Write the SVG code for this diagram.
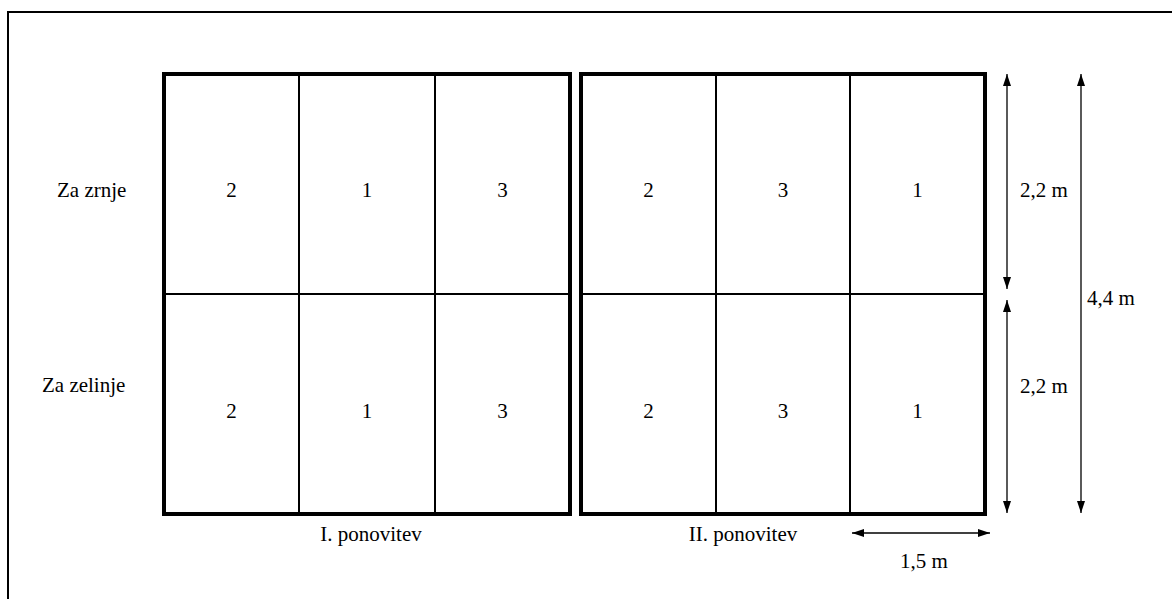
<svg xmlns="http://www.w3.org/2000/svg" width="1172" height="599" viewBox="0 0 1172 599">
  <style>
    .thick { stroke: #000; stroke-width: 4; fill: none; }
    .thin { stroke: #000; stroke-width: 2; fill: none; }
    .dim { stroke: #000; stroke-width: 1.3; fill: none; }
  </style>
  <defs>
    <marker id="ah" viewBox="0 0 12 8" refX="12" refY="4" markerWidth="12" markerHeight="8" markerUnits="userSpaceOnUse" orient="auto-start-reverse">
      <path d="M0,0 L12,4 L0,8 Z" fill="#000"/>
    </marker>
  </defs>

  <rect width="1172" height="599" fill="#fff"/>

  <!-- outer frame -->
  <path class="thin" d="M8,605 L8,12 L1180,12"/>

  <!-- replicate I -->
  <g id="rep1">
    <rect class="thick" x="164" y="74" width="406" height="440"/>
    <line class="thin" x1="164" y1="294" x2="570" y2="294"/>
    <line class="thin" x1="299" y1="74" x2="299" y2="514"/>
    <line class="thin" x1="435" y1="74" x2="435" y2="514"/>
    <text style="font-family:'Liberation Serif',serif;font-size:21px;text-anchor:middle" x="231.5" y="197">2</text>
    <text style="font-family:'Liberation Serif',serif;font-size:21px;text-anchor:middle" x="367" y="197">1</text>
    <text style="font-family:'Liberation Serif',serif;font-size:21px;text-anchor:middle" x="502.5" y="197">3</text>
    <text style="font-family:'Liberation Serif',serif;font-size:21px;text-anchor:middle" x="231.5" y="418">2</text>
    <text style="font-family:'Liberation Serif',serif;font-size:21px;text-anchor:middle" x="367" y="418">1</text>
    <text style="font-family:'Liberation Serif',serif;font-size:21px;text-anchor:middle" x="502.5" y="418">3</text>
    <text style="font-family:'Liberation Serif',serif;font-size:21px;text-anchor:middle" x="371" y="541">I. ponovitev</text>
  </g>

  <!-- replicate II -->
  <g id="rep2">
    <rect class="thick" x="581" y="74" width="404" height="440"/>
    <line class="thin" x1="581" y1="294" x2="985" y2="294"/>
    <line class="thin" x1="716" y1="74" x2="716" y2="514"/>
    <line class="thin" x1="850" y1="74" x2="850" y2="514"/>
    <text style="font-family:'Liberation Serif',serif;font-size:21px;text-anchor:middle" x="648.5" y="197">2</text>
    <text style="font-family:'Liberation Serif',serif;font-size:21px;text-anchor:middle" x="783" y="197">3</text>
    <text style="font-family:'Liberation Serif',serif;font-size:21px;text-anchor:middle" x="917.5" y="197">1</text>
    <text style="font-family:'Liberation Serif',serif;font-size:21px;text-anchor:middle" x="648.5" y="418">2</text>
    <text style="font-family:'Liberation Serif',serif;font-size:21px;text-anchor:middle" x="783" y="418">3</text>
    <text style="font-family:'Liberation Serif',serif;font-size:21px;text-anchor:middle" x="917.5" y="418">1</text>
    <text style="font-family:'Liberation Serif',serif;font-size:21px;text-anchor:middle" x="743" y="541">II. ponovitev</text>
  </g>

  <!-- row labels -->
  <g id="labels">
    <text style="font-family:'Liberation Serif',serif;font-size:21px" x="57" y="197">Za zrnje</text>
    <text style="font-family:'Liberation Serif',serif;font-size:21px" x="42" y="392">Za zelinje</text>
  </g>

  <!-- dimension arrows -->
  <g id="dimensions">
    <line class="dim" x1="1007" y1="74" x2="1007" y2="289" marker-start="url(#ah)" marker-end="url(#ah)"/>
    <line class="dim" x1="1007" y1="300" x2="1007" y2="513" marker-start="url(#ah)" marker-end="url(#ah)"/>
    <line class="dim" x1="1081" y1="74" x2="1081" y2="513" marker-start="url(#ah)" marker-end="url(#ah)"/>
    <line class="dim" x1="852" y1="533" x2="990" y2="533" marker-start="url(#ah)" marker-end="url(#ah)"/>
    <text style="font-family:'Liberation Serif',serif;font-size:21px" x="1020" y="197">2,2 m</text>
    <text style="font-family:'Liberation Serif',serif;font-size:21px" x="1020" y="393">2,2 m</text>
    <text style="font-family:'Liberation Serif',serif;font-size:21px" x="1087" y="305">4,4 m</text>
    <text style="font-family:'Liberation Serif',serif;font-size:21px" x="900" y="568">1,5 m</text>
  </g>
</svg>
